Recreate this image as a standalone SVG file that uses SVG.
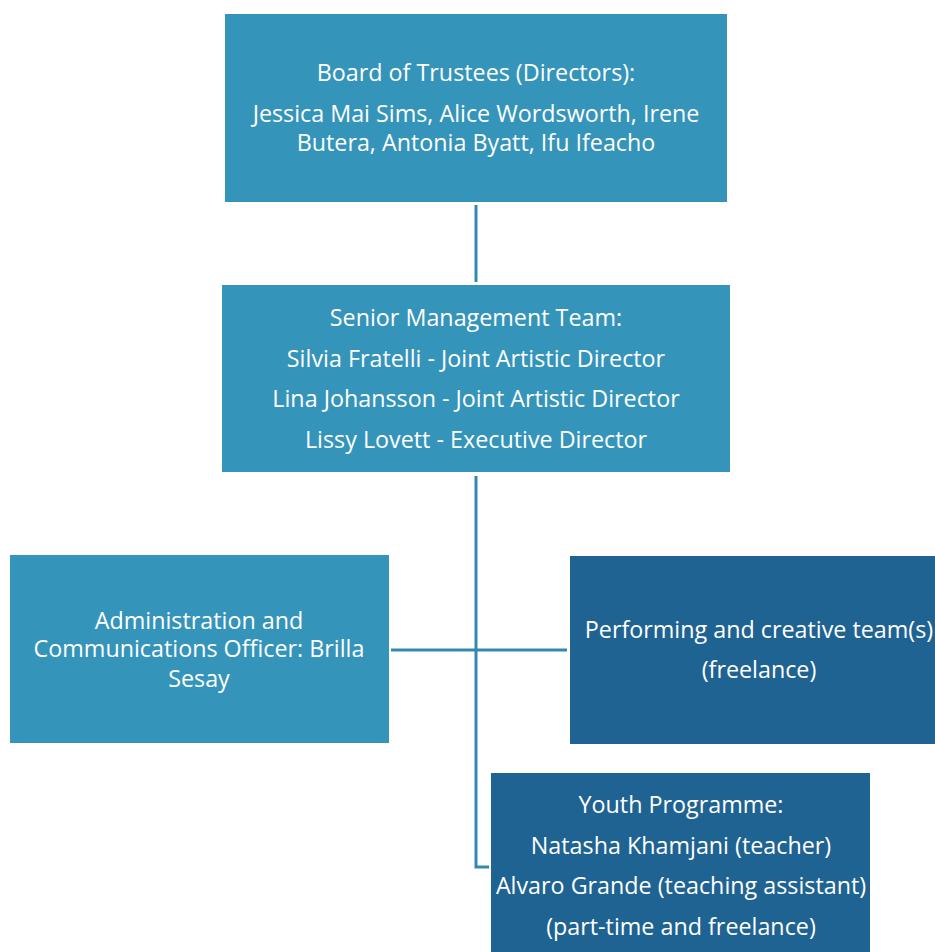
<svg xmlns="http://www.w3.org/2000/svg" width="935" height="952" viewBox="0 0 935 952">
  <style>
    .light { fill: #3594BA; }
    .dark { fill: #1F6392; }
    .lbl { fill: #FFFFFF; font-family: "Open Sans", "Noto Sans", sans-serif; font-size: 23.3px; text-anchor: middle; }
    .conn { fill: none; stroke: #3189B0; stroke-width: 3; }
  </style>
  <rect width="935" height="952" fill="#FFFFFF"/>

  <g id="connectors">
    <line class="conn" x1="476" y1="205" x2="476" y2="282"/>
    <polyline class="conn" points="476,476 476,867 489,867"/>
    <line class="conn" x1="391" y1="650" x2="567" y2="650"/>
  </g>

  <g id="board">
    <rect class="light" x="225" y="14" width="502" height="188"/>
    <text class="lbl" x="476" y="81">Board of Trustees (Directors):</text>
    <text class="lbl" x="476" y="122">Jessica Mai Sims, Alice Wordsworth, Irene</text>
    <text class="lbl" x="476" y="151">Butera, Antonia Byatt, Ifu Ifeacho</text>
  </g>

  <g id="senior-management">
    <rect class="light" x="222" y="285" width="508" height="187"/>
    <text class="lbl" x="476" y="326">Senior Management Team:</text>
    <text class="lbl" x="476" y="367">Silvia Fratelli - Joint Artistic Director</text>
    <text class="lbl" x="476" y="407">Lina Johansson - Joint Artistic Director</text>
    <text class="lbl" x="476" y="448">Lissy Lovett - Executive Director</text>
  </g>

  <g id="administration">
    <rect class="light" x="10" y="555" width="379" height="188"/>
    <text class="lbl" x="199" y="629">Administration and</text>
    <text class="lbl" x="199" y="657">Communications Officer: Brilla</text>
    <text class="lbl" x="199" y="687">Sesay</text>
  </g>

  <g id="performing">
    <rect class="dark" x="570" y="556" width="380" height="188"/>
    <text class="lbl" x="759" y="638">Performing and creative team(s)</text>
    <text class="lbl" x="759" y="678">(freelance)</text>
  </g>

  <g id="youth">
    <rect class="dark" x="491" y="773" width="379" height="190"/>
    <text class="lbl" x="681" y="813">Youth Programme:</text>
    <text class="lbl" x="681" y="854">Natasha Khamjani (teacher)</text>
    <text class="lbl" x="681" y="894">Alvaro Grande (teaching assistant)</text>
    <text class="lbl" x="681" y="935">(part-time and freelance)</text>
  </g>
</svg>
